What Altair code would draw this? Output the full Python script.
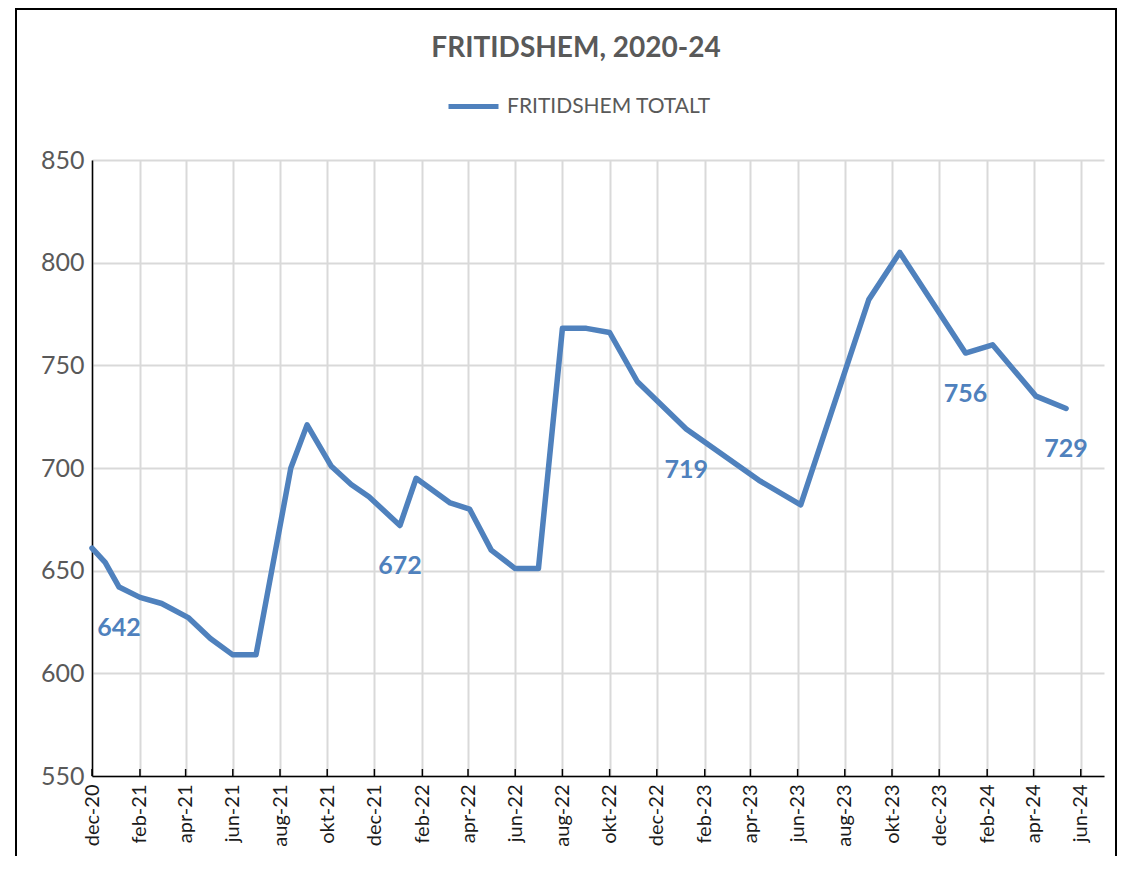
import altair as alt
import pandas as pd

# ---- data ----
dates = ["2020-12-01", "2020-12-18", "2021-01-05", "2021-02-01", "2021-03-01", "2021-04-05",
         "2021-05-03", "2021-06-01", "2021-07-01", "2021-08-15", "2021-09-05", "2021-10-06",
         "2021-11-01", "2021-11-24", "2022-01-03", "2022-01-24", "2022-03-09", "2022-04-03",
         "2022-05-01", "2022-06-01", "2022-07-01", "2022-08-01", "2022-09-01", "2022-10-01",
         "2022-11-06", "2023-01-08", "2023-04-12", "2023-06-05", "2023-09-01", "2023-10-11",
         "2024-01-04", "2024-02-08", "2024-04-04", "2024-05-13"]
values = [661, 654, 642, 637, 634, 627,
          617, 609, 609, 700, 721, 701,
          692, 686, 672, 695, 683, 680,
          660, 651, 651, 768, 768, 766,
          742, 719, 694, 682, 782, 805,
          756, 760, 735, 729]
labelled_dates = ["2021-01-05", "2022-01-03", "2023-01-08", "2024-01-04", "2024-05-13"]
series_name = "FRITIDSHEM TOTALT"
title_text = "FRITIDSHEM, 2020-24"
month_names = ["jan", "feb", "mar", "apr", "maj", "jun", "jul", "aug", "sep", "okt", "nov", "dec"]
x_start = "2020-12-01"
x_end = "2024-07-01"
y_ticks = [550, 600, 650, 700, 750, 800, 850]

LINE_COLOR = "#4F81BD"
GRID = "#D9D9D9"
FONT = "Lato"

df = pd.DataFrame({"date": dates, "value": values, "series": series_name})
df["label"] = [str(v) if d in labelled_dates else "" for d, v in zip(dates, values)]

grid_months = pd.date_range(x_start, x_end, freq="MS")
grid_values = [int(d.value // 10**6) for d in grid_months]  # ms since epoch (UTC)
tick_df = pd.DataFrame({"date": [d.strftime("%Y-%m-%d") for d in grid_months if d.month % 2 == 0]})

names_js = "[" + ",".join("'%s'" % m for m in month_names) + "]"
label_expr = ("utcmonth(datum.value) % 2 == 1 ? " + names_js +
              "[utcmonth(datum.value)] + '-' + utcFormat(datum.value, '%y') : ''")

x_scale = alt.Scale(type="utc", domain=[grid_values[0], grid_values[-1]])
y_scale = alt.Scale(domain=[550, 850], nice=False, zero=False)

x_axis = alt.Axis(values=grid_values, labelExpr=label_expr, labelAngle=270, labelAlign="right",
                  labelBaseline="middle", labelFontSize=20, labelColor="#1a1a1a", labelFont=FONT,
                  labelPadding=8, ticks=False, grid=True, gridColor=GRID, gridWidth=2,
                  domainColor="black", domainWidth=1.5, title=None, labelOverlap=False,
                  labelBound=False, labelFlush=False)
y_axis = alt.Axis(values=y_ticks, labelFontSize=25, labelColor="#595959", labelFont=FONT,
                  labelPadding=8, ticks=False, grid=True, gridColor=GRID, gridWidth=2,
                  domainColor="black", domainWidth=1.5, title=None)

base = alt.Chart(df)

line = base.mark_line(strokeWidth=5.5, strokeJoin="round", strokeCap="round").encode(
    x=alt.X("date:T", scale=x_scale, axis=x_axis),
    y=alt.Y("value:Q", scale=y_scale, axis=y_axis),
    color=alt.Color("series:N", scale=alt.Scale(range=[LINE_COLOR]),
                    legend=alt.Legend(title=None, orient="none", legendX=354, legendY=-81,
                                      symbolType="stroke", symbolStrokeWidth=5, symbolSize=2500,
                                      labelFontSize=21, labelColor="#595959", labelFont=FONT,
                                      labelOffset=6, labelLimit=400)),
)

labels = base.transform_filter("datum.label != ''").mark_text(
    fontSize=25, fontWeight="bold", font=FONT, color=LINE_COLOR, dy=41, baseline="middle"
).encode(
    x=alt.X("date:T", scale=x_scale),
    y=alt.Y("value:Q", scale=y_scale),
    text="label:N",
)

ticks = alt.Chart(tick_df).mark_rule(color="black", strokeWidth=1.5).encode(
    x=alt.X("date:T", scale=x_scale),
    y=alt.value(616),
    y2=alt.value(609),
)

border = alt.Chart(pd.DataFrame({"a": [0]})).mark_rect(
    fillOpacity=0, stroke="black", strokeWidth=2
).encode(
    x=alt.value(-76), x2=alt.value(1024), y=alt.value(-151), y2=alt.value(720)
)

chart = alt.layer(border, line, ticks, labels).properties(
    width=1012,
    height=616,
    padding={"left": 84, "top": 152, "right": 13, "bottom": 80},
    autosize=alt.AutoSizeParams(type="none"),
    title=alt.TitleParams(text=title_text, fontSize=28, fontWeight="bold", color="#595959",
                          font=FONT, anchor="middle", dx=-22, offset=-55, frame="group"),
).configure_view(strokeWidth=0)

chart.save("out.html", embed_options={"renderer": "svg", "actions": False})
